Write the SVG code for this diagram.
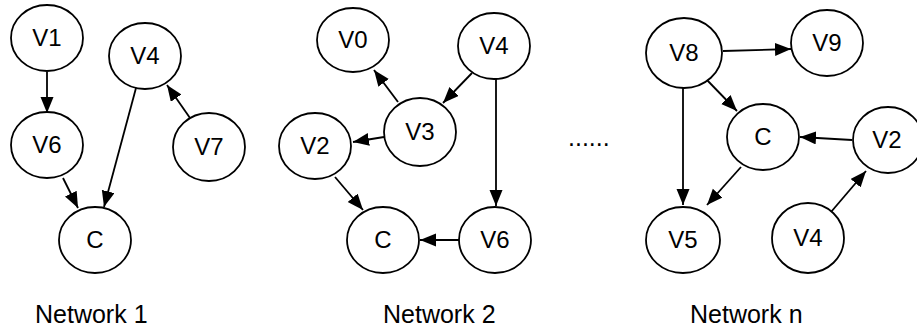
<svg xmlns="http://www.w3.org/2000/svg" width="917" height="330" viewBox="0 0 917 330">
  <style>
    .node ellipse { fill: #ffffff; stroke: #000000; stroke-width: 1.8; }
    .node text { font-family: "Liberation Sans", Arial, sans-serif; font-size: 24px; text-anchor: middle; fill: #000000; }
    .edges line { stroke: #000000; stroke-width: 1.8; marker-end: url(#arrow); }
    .caption { font-family: "Liberation Sans", Arial, sans-serif; font-size: 25px; fill: #000000; }
  </style>
  <defs>
    <marker id="arrow" markerUnits="userSpaceOnUse" markerWidth="17" markerHeight="14" refX="16" refY="6.5" orient="auto">
      <path d="M0,0 L16,6.5 L0,13 z" fill="#000000"/>
    </marker>
  </defs>
  <rect width="917" height="330" fill="#ffffff"/>

  <!-- connectors -->
  <g id="edges" class="edges">
    <!-- Network 1 -->
    <line x1="47" y1="72" x2="47" y2="113"/>
    <line x1="63" y1="178" x2="78" y2="208"/>
    <line x1="136" y1="88" x2="104" y2="207"/>
    <line x1="190" y1="118" x2="167" y2="85"/>
    <!-- Network 2 -->
    <line x1="398" y1="102" x2="374" y2="70"/>
    <line x1="472" y1="73" x2="443" y2="103"/>
    <line x1="384" y1="137" x2="353" y2="142"/>
    <line x1="335" y1="177" x2="363" y2="210"/>
    <line x1="496" y1="79" x2="496" y2="206"/>
    <line x1="459" y1="240" x2="420" y2="240"/>
    <!-- Network n -->
    <line x1="723" y1="51" x2="791" y2="49"/>
    <line x1="707" y1="80" x2="737" y2="111"/>
    <line x1="683" y1="88" x2="683" y2="205"/>
    <line x1="741" y1="167" x2="707" y2="205"/>
    <line x1="852" y1="140" x2="800" y2="137"/>
    <line x1="831" y1="212" x2="866" y2="171"/>
  </g>

  <!-- Network 1 -->
  <g id="n1-v1" class="node"><ellipse cx="47" cy="38" rx="36" ry="33"/><text x="47" y="46">V1</text></g>
  <g id="n1-v6" class="node"><ellipse cx="47" cy="145" rx="36" ry="33"/><text x="47" y="153">V6</text></g>
  <g id="n1-v4" class="node"><ellipse cx="145" cy="56" rx="36" ry="33"/><text x="145" y="64">V4</text></g>
  <g id="n1-v7" class="node"><ellipse cx="209" cy="147" rx="36" ry="34"/><text x="209" y="155">V7</text></g>
  <g id="n1-c" class="node"><ellipse cx="95" cy="240" rx="36" ry="33"/><text x="95" y="248">C</text></g>

  <!-- Network 2 -->
  <g id="n2-v0" class="node"><ellipse cx="353" cy="40" rx="36" ry="32"/><text x="353" y="48">V0</text></g>
  <g id="n2-v4" class="node"><ellipse cx="494" cy="46" rx="36" ry="33"/><text x="494" y="54">V4</text></g>
  <g id="n2-v3" class="node"><ellipse cx="420" cy="132" rx="36" ry="34"/><text x="420" y="140">V3</text></g>
  <g id="n2-v2" class="node"><ellipse cx="315" cy="146" rx="36" ry="33"/><text x="315" y="154">V2</text></g>
  <g id="n2-c" class="node"><ellipse cx="383" cy="240" rx="36" ry="33"/><text x="383" y="248">C</text></g>
  <g id="n2-v6" class="node"><ellipse cx="495" cy="240" rx="36" ry="33"/><text x="495" y="248">V6</text></g>

  <!-- Network n -->
  <g id="nn-v8" class="node"><ellipse cx="684" cy="53" rx="38" ry="35"/><text x="684" y="61">V8</text></g>
  <g id="nn-v9" class="node"><ellipse cx="827" cy="43" rx="36" ry="33"/><text x="827" y="51">V9</text></g>
  <g id="nn-c" class="node"><ellipse cx="763" cy="137" rx="36" ry="33"/><text x="763" y="145">C</text></g>
  <g id="nn-v2" class="node"><ellipse cx="888" cy="140" rx="35" ry="33"/><text x="887" y="148">V2</text></g>
  <g id="nn-v5" class="node"><ellipse cx="683" cy="240" rx="37" ry="33"/><text x="683" y="248">V5</text></g>
  <g id="nn-v4" class="node"><ellipse cx="808" cy="238" rx="36" ry="35"/><text x="808" y="246">V4</text></g>

  <!-- ellipsis between networks -->
  <text class="caption" x="568" y="145.5" font-size="26">......</text>

  <!-- captions -->
  <text class="caption" x="35" y="323">Network 1</text>
  <text class="caption" x="383" y="323">Network 2</text>
  <text class="caption" x="690" y="323">Network n</text>
</svg>
